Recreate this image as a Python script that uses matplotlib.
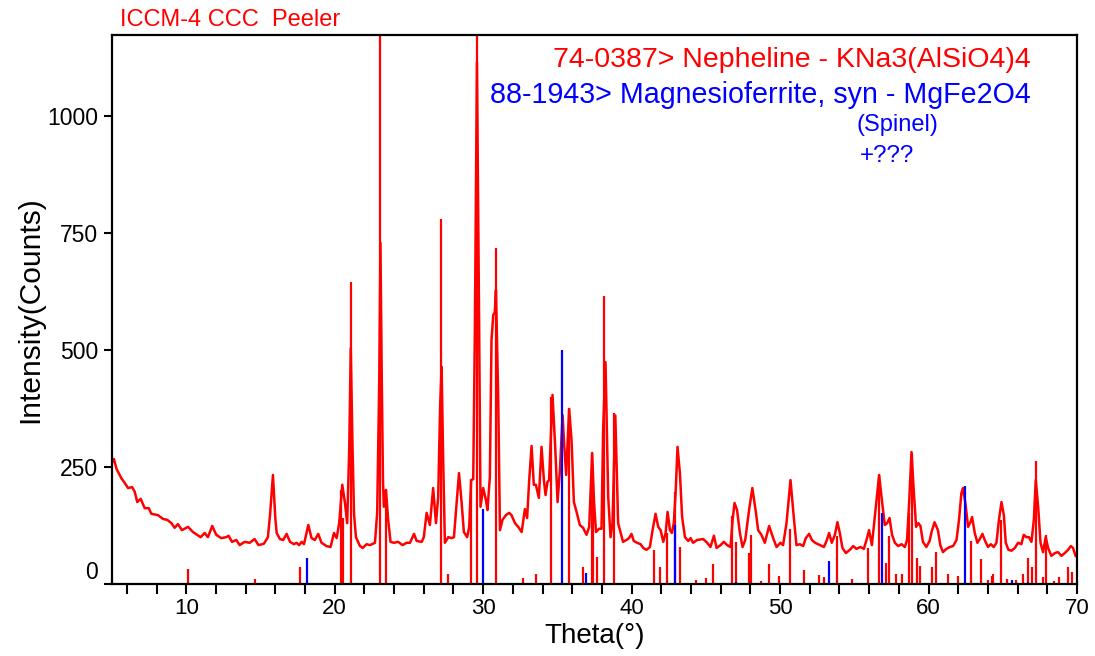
import matplotlib
matplotlib.use("Agg")
import matplotlib.pyplot as plt

plt.rcParams["font.family"] = ["Liberation Sans", "DejaVu Sans"]

# measured pattern (2-theta, counts)
theta = [5.0, 5.13, 5.3, 5.63, 5.85, 6.08, 6.35, 6.53, 6.7, 6.93, 7.2, 7.47, 7.65, 8.1, 8.43,
         8.72, 9.0, 9.22, 9.44, 9.71, 10.12, 10.45, 10.74, 10.97, 11.24, 11.46, 11.75, 12.02,
         12.36, 12.69, 12.85, 13.08, 13.37, 13.6, 13.93, 14.27, 14.6, 14.87, 15.23, 15.5, 15.65,
         15.84, 16.0, 16.09, 16.31, 16.53, 16.76, 16.99, 17.25, 17.43, 17.6, 17.77, 17.93, 18.22,
         18.44, 18.66, 18.89, 19.11, 19.45, 19.72, 19.95, 20.13, 20.3, 20.51, 20.69, 20.84, 20.98,
         21.08, 21.2, 21.3, 21.43, 21.7, 21.88, 22.15, 22.37, 22.71, 22.86, 23.0, 23.08, 23.17,
         23.25, 23.31, 23.45, 23.6, 23.76, 23.98, 24.27, 24.57, 24.84, 25.07, 25.34, 25.52, 25.86,
         26.0, 26.19, 26.41, 26.63, 26.82, 26.97, 27.1, 27.2, 27.31, 27.42, 27.65, 27.87, 28.03,
         28.21, 28.37, 28.55, 28.7, 28.92, 29.06, 29.19, 29.33, 29.44, 29.58, 29.73, 29.82, 30.0,
         30.18, 30.29, 30.45, 30.56, 30.68, 30.78, 30.86, 31.01, 31.13, 31.3, 31.53, 31.75, 31.91,
         32.14, 32.36, 32.59, 32.81, 32.96, 33.1, 33.26, 33.41, 33.55, 33.75, 33.93, 34.09, 34.2,
         34.33, 34.44, 34.67, 34.85, 35.01, 35.17, 35.35, 35.45, 35.59, 35.79, 35.95, 36.11, 36.29,
         36.51, 36.73, 36.96, 37.14, 37.34, 37.47, 37.6, 37.81, 37.97, 38.08, 38.24, 38.42, 38.58,
         38.71, 38.9, 39.09, 39.25, 39.42, 39.65, 39.82, 39.99, 40.14, 40.37, 40.6, 40.78, 41.0,
         41.23, 41.41, 41.61, 41.79, 41.95, 42.13, 42.29, 42.42, 42.58, 42.71, 42.84, 42.96, 43.09,
         43.25, 43.4, 43.59, 43.81, 43.97, 44.14, 44.41, 44.82, 45.09, 45.31, 45.54, 45.72, 45.99,
         46.21, 46.43, 46.66, 46.8, 46.93, 47.1, 47.29, 47.47, 47.65, 47.91, 48.13, 48.36, 48.52,
         48.74, 48.97, 49.26, 49.53, 49.76, 50.02, 50.2, 50.43, 50.7, 50.92, 51.1, 51.33, 51.55,
         51.73, 51.95, 52.14, 52.36, 52.68, 52.95, 53.13, 53.3, 53.48, 53.69, 53.86, 54.02, 54.2,
         54.43, 54.7, 54.92, 55.14, 55.41, 55.64, 55.82, 55.99, 56.18, 56.45, 56.67, 56.85, 57.05,
         57.21, 57.37, 57.54, 57.73, 57.95, 58.18, 58.4, 58.55, 58.69, 58.85, 59.0, 59.16, 59.31,
         59.45, 59.62, 59.85, 60.07, 60.2, 60.4, 60.63, 60.79, 60.97, 61.2, 61.43, 61.65, 61.88,
         62.05, 62.21, 62.32, 62.48, 62.66, 62.82, 62.93, 63.11, 63.29, 63.45, 63.63, 63.78, 64.0,
         64.19, 64.39, 64.57, 64.74, 64.91, 65.07, 65.2, 65.38, 65.58, 65.81, 66.03, 66.25, 66.41,
         66.59, 66.76, 66.93, 67.09, 67.22, 67.38, 67.54, 67.71, 67.89, 68.05, 68.27, 68.5, 68.72,
         68.95, 69.17, 69.4, 69.58, 69.73, 69.9, 70.0]
counts = [259, 267, 246, 226, 216, 205, 207, 197, 175, 182, 162, 162, 150, 147, 139,
          137, 130, 120, 128, 115, 122, 111, 105, 100, 109, 100, 124, 105,
          98, 100, 103, 90, 94, 83, 90, 88, 96, 83, 86, 100, 150,
          233, 140, 109, 96, 94, 107, 90, 85, 88, 83, 90, 85, 126,
          98, 94, 107, 88, 81, 79, 109, 98, 130, 212, 173, 130, 293,
          504, 293, 150, 100, 81, 77, 85, 83, 88, 152, 436, 729, 436,
          222, 165, 201, 137, 90, 88, 90, 83, 88, 88, 107, 92, 90,
          100, 152, 126, 205, 130, 186, 380, 464, 258, 88, 100, 98, 100,
          173, 237, 173, 111, 100, 122, 222, 224, 543, 1115, 543, 165, 205,
          180, 158, 229, 521, 575, 580, 628, 400, 115, 137, 147, 152, 147,
          130, 122, 111, 160, 141, 222, 295, 212, 212, 184, 293, 222, 190,
          218, 222, 404, 293, 175, 244, 361, 301, 233, 374, 308, 175, 154,
          126, 120, 105, 122, 280, 173, 111, 118, 118, 329, 474, 186, 100,
          130, 360, 130, 111, 90, 94, 98, 107, 92, 88, 85, 77, 73,
          79, 115, 150, 122, 115, 90, 109, 154, 115, 109, 130, 194, 293,
          237, 143, 100, 92, 98, 88, 94, 96, 88, 79, 103, 77, 83,
          90, 83, 79, 137, 173, 158, 109, 79, 94, 158, 205, 155, 115,
          105, 88, 124, 98, 79, 88, 83, 130, 222, 143, 83, 85, 81,
          98, 107, 94, 88, 83, 79, 92, 109, 88, 105, 132, 109, 77,
          66, 73, 81, 75, 79, 75, 94, 115, 83, 165, 233, 180, 126,
          130, 141, 105, 88, 81, 85, 79, 94, 173, 282, 200, 122, 130,
          124, 90, 79, 92, 111, 132, 115, 83, 68, 75, 79, 81, 94,
          137, 194, 205, 173, 122, 132, 143, 109, 88, 96, 107, 94, 79,
          85, 79, 88, 137, 175, 147, 88, 73, 71, 77, 88, 85, 105,
          100, 100, 90, 137, 222, 165, 88, 68, 100, 77, 60, 66, 68,
          60, 66, 73, 81, 77, 60, 58]

# 74-0387 Nepheline reference lines
neph_pos = [10.14, 14.65, 17.66, 20.39, 20.57, 21.09, 23.05, 23.45, 27.13, 27.65, 29.17, 29.56,
            30.86, 32.66, 33.58, 34.6, 35.78, 36.7, 37.32, 37.41, 37.66, 38.15, 38.83, 41.5,
            41.88, 42.39, 42.95, 43.23, 44.33, 45.0, 45.48, 46.77, 47.06, 47.91, 48.07, 48.7,
            49.24, 49.9, 50.65, 51.6, 52.63, 52.95, 53.84, 54.87, 55.95, 56.63, 57.12, 57.34,
            57.79, 58.21, 58.69, 58.85, 59.19, 59.45, 60.26, 60.49, 61.34, 61.99, 62.89, 63.56,
            64.0, 64.26, 64.37, 64.87, 65.27, 65.88, 66.35, 66.7, 66.97, 67.22, 67.69, 67.94,
            68.48, 68.81, 69.42, 69.65]
neph_int = [32, 11, 36, 200, 141, 645, 1200, 201, 780, 21, 225, 1200,
            718, 13, 21, 400, 376, 36, 280, 169, 58, 615, 365, 73,
            36, 109, 197, 79, 9, 13, 43, 145, 90, 66, 105, 6,
            43, 17, 118, 30, 19, 15, 103, 11, 77, 233, 45, 103,
            21, 21, 152, 280, 56, 38, 36, 68, 21, 17, 92, 53,
            9, 17, 21, 137, 11, 9, 21, 56, 36, 263, 15, 105,
            6, 15, 36, 26]

# 88-1943 Magnesioferrite reference lines
mgfe_pos = [18.15, 29.96, 35.28, 36.92, 42.95, 47.02, 53.31, 56.83, 62.44, 65.63, 66.7]
mgfe_int = [56, 160, 500, 24, 126, 4, 49, 152, 209, 9, 4]

fig = plt.figure(figsize=(10.95, 6.56), dpi=100)
ax = fig.add_axes([0.1023, 0.1098, 0.8813, 0.8368])

ax.plot(theta, counts, color="#ff0000", lw=1.8)
ax.vlines(neph_pos, 0, neph_int, color="#ff0000", lw=1.6)
ax.vlines(mgfe_pos, 0, mgfe_int, color="#0000ff", lw=1.6)

ax.set_xlim(5, 70)
ax.set_ylim(0, 1173)
ax.set_xticks(range(10, 71, 10))
ax.set_xticks(range(6, 70, 2), minor=True)
ax.set_yticks([0, 250, 500, 750, 1000])
ax.tick_params(axis="x", which="both", direction="out", length=7, width=1.5,
               labelsize=16, pad=3)
ax.tick_params(axis="y", direction="out", length=6, width=1.5, labelsize=16.5, pad=4)
for s in ax.spines.values():
    s.set_linewidth(1.6)

ax.set_xlabel("Theta(°)", fontsize=20, labelpad=3)
ax.set_ylabel("Intensity(Counts)", fontsize=21.5, labelpad=2)

fig.canvas.draw()
ax.yaxis.get_major_ticks()[0].label1.set_verticalalignment("bottom")

fig.text(0.1096, 0.969, "ICCM-4 CCC  Peeler", color="#ff0000", fontsize=17, va="center")
ax.text(0.952, 0.955, "74-0387> Nepheline - KNa3(AlSiO4)4", color="#ff0000", fontsize=20.5,
        ha="right", va="center", transform=ax.transAxes)
ax.text(0.952, 0.891, "88-1943> Magnesioferrite, syn - MgFe2O4", color="#0000ff", fontsize=20.6,
        ha="right", va="center", transform=ax.transAxes)
ax.text(0.8135, 0.836, "(Spinel)", color="#0000ff", fontsize=17, ha="center", va="center",
        transform=ax.transAxes)
ax.text(0.803, 0.78, "+???", color="#0000ff", fontsize=17.5, ha="center", va="center",
        transform=ax.transAxes)

fig.savefig("out.png", dpi=100)
